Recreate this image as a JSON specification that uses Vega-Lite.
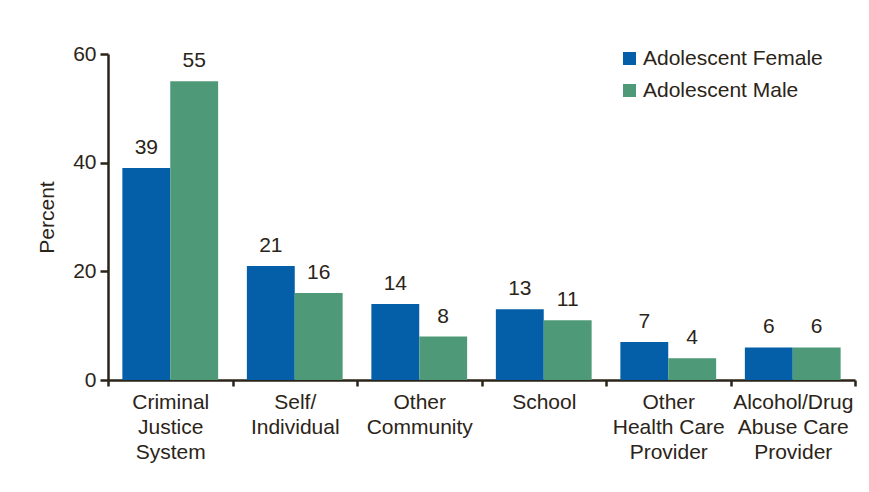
{
  "$schema": "https://vega.github.io/schema/vega-lite/v6.json",
  "width": 747,
  "height": 326,
  "autosize": "none",
  "padding": {"left": 108, "top": 54, "right": 14, "bottom": 112},
  "background": "white",
  "config": {
    "view": {"stroke": null},
    "font": "Liberation Sans",
    "text": {"font": "Liberation Sans"}
  },
  "data": {
    "values": [
      {"source": "Criminal Justice System", "group": "Adolescent Female", "pct": 39},
      {"source": "Criminal Justice System", "group": "Adolescent Male", "pct": 55},
      {"source": "Self/ Individual", "group": "Adolescent Female", "pct": 21},
      {"source": "Self/ Individual", "group": "Adolescent Male", "pct": 16},
      {"source": "Other Community", "group": "Adolescent Female", "pct": 14},
      {"source": "Other Community", "group": "Adolescent Male", "pct": 8},
      {"source": "School", "group": "Adolescent Female", "pct": 13},
      {"source": "School", "group": "Adolescent Male", "pct": 11},
      {"source": "Other Health Care Provider", "group": "Adolescent Female", "pct": 7},
      {"source": "Other Health Care Provider", "group": "Adolescent Male", "pct": 4},
      {"source": "Alcohol/Drug Abuse Care Provider", "group": "Adolescent Female", "pct": 6},
      {"source": "Alcohol/Drug Abuse Care Provider", "group": "Adolescent Male", "pct": 6}
    ]
  },
  "encoding": {
    "x": {
      "field": "source",
      "type": "nominal",
      "sort": null,
      "scale": {"paddingInner": 0, "paddingOuter": 0},
      "axis": {
        "title": null,
        "labelAngle": 0,
        "labelExpr": "datum.value == 'Criminal Justice System' ? ['Criminal','Justice','System'] : datum.value == 'Self/ Individual' ? ['Self/','Individual'] : datum.value == 'Other Community' ? ['Other','Community'] : datum.value == 'Other Health Care Provider' ? ['Other','Health Care','Provider'] : datum.value == 'Alcohol/Drug Abuse Care Provider' ? ['Alcohol/Drug','Abuse Care','Provider'] : datum.value",
        "labelFontSize": 21,
        "labelLineHeight": 25,
        "labelColor": "#2b2418",
        "labelPadding": 5,
        "labelLimit": 300,
        "tickBand": "extent",
        "tickSize": 6,
        "tickWidth": 2.5,
        "tickColor": "#2b2418",
        "domainColor": "#2b2418",
        "domainWidth": 2.5
      }
    },
    "xOffset": {
      "field": "group",
      "type": "nominal",
      "scale": {"paddingOuter": 0.3, "paddingInner": 0}
    },
    "y": {
      "field": "pct",
      "type": "quantitative",
      "scale": {"domain": [0, 60]},
      "axis": {
        "title": "Percent",
        "titleFontSize": 21,
        "titleFontWeight": "normal",
        "titleColor": "#2b2418",
        "titlePadding": 15,
        "values": [0, 20, 40, 60],
        "grid": false,
        "labelFontSize": 21,
        "labelColor": "#2b2418",
        "labelPadding": 4,
        "tickSize": 8,
        "tickWidth": 2.5,
        "tickColor": "#2b2418",
        "domainColor": "#2b2418",
        "domainWidth": 2.5
      }
    }
  },
  "layer": [
    {
      "mark": {"type": "bar"},
      "encoding": {
        "color": {
          "field": "group",
          "type": "nominal",
          "scale": {"domain": ["Adolescent Female", "Adolescent Male"], "range": ["#045fa8", "#4e9a78"]},
          "legend": {
            "title": null,
            "orient": "none",
            "legendX": 511,
            "legendY": -6,
            "symbolType": "square",
            "symbolSize": 169,
            "symbolStrokeWidth": 0,
            "labelFontSize": 21,
            "labelLimit": 300,
            "labelColor": "#2b2418",
            "labelOffset": 3,
            "rowPadding": 10
          }
        }
      }
    },
    {
      "mark": {"type": "text", "baseline": "bottom", "dy": -10, "fontSize": 21, "color": "#2b2418"},
      "encoding": {"text": {"field": "pct", "type": "quantitative"}}
    }
  ]
}
